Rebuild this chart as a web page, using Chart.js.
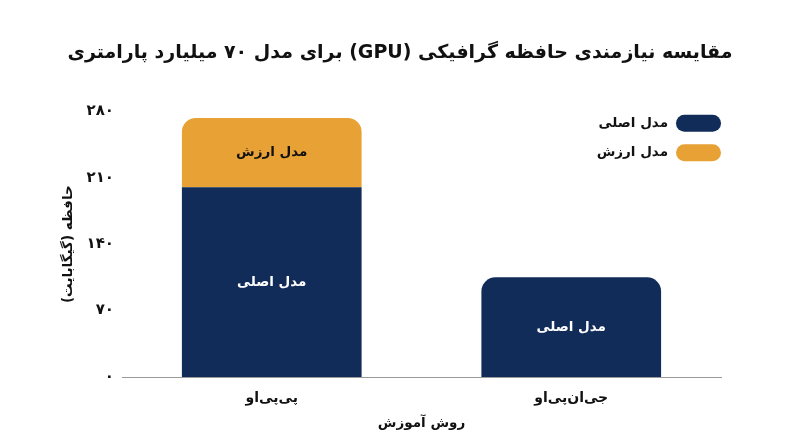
<!DOCTYPE html>
<html lang="fa" dir="rtl">
<head>
<meta charset="utf-8">
<script src="https://cdn.jsdelivr.net/npm/chart.js@4.4.1/dist/chart.umd.min.js"></script>
<style>
  html, body { margin: 0; padding: 0; background: #ffffff; }
  #wrap { width: 800px; height: 447px; position: relative; }
  canvas { direction: rtl; }
</style>
</head>
<body>
<div id="wrap"><canvas id="c" width="800" height="447"></canvas></div>
<script>
// ---- data ----
const categories = ['پی‌پی‌او', 'جی‌ان‌پی‌او'];
const seriesNames = ['مدل اصلی', 'مدل ارزش'];
const mainModel = [200, 105];
const valueModel = [73, null];
const yTickValues = [0, 70, 140, 210, 280];
const yTickLabels = ['۰', '۷۰', '۱۴۰', '۲۱۰', '۲۸۰'];
const titleText = 'مقایسه نیازمندی حافظه گرافیکی (GPU) برای مدل ۷۰ میلیارد پارامتری';
const yTitle = 'حافظه (گیگابایت)';
const xTitle = 'روش آموزش';

const NAVY = '#122c5a';
const ORANGE = '#e7a135';
const TEXT = '#111111';
const FONT = "'DejaVu Sans', sans-serif";

const barLabels = {
  id: 'barLabels',
  afterDatasetsDraw(chart) {
    const ctx = chart.ctx;
    ctx.save();
    ctx.font = 'bold 13.5px ' + FONT;
    ctx.textAlign = 'center';
    ctx.textBaseline = 'middle';
    ctx.direction = 'rtl';
    chart.data.datasets.forEach((ds, di) => {
      const meta = chart.getDatasetMeta(di);
      meta.data.forEach((el, i) => {
        const v = ds.data[i];
        if (v == null) return;
        ctx.fillStyle = di === 0 ? '#ffffff' : TEXT;
        ctx.fillText(ds.label, el.x, (el.y + el.base) / 2);
      });
    });
    ctx.restore();
  }
};

const pillLegend = {
  id: 'pillLegend',
  afterDraw(chart) {
    const ctx = chart.ctx;
    const area = chart.chartArea;
    ctx.save();
    ctx.font = 'bold 13.5px ' + FONT;
    ctx.textAlign = 'right';
    ctx.textBaseline = 'middle';
    ctx.direction = 'rtl';
    const w = 45, h = 17, gap = 29.5;
    chart.data.datasets.forEach((ds, i) => {
      const cy = area.top + 12 + i * gap;
      const x1 = area.right - w;
      ctx.fillStyle = ds.backgroundColor;
      ctx.beginPath();
      ctx.roundRect(x1, cy - h / 2, w, h, h / 2);
      ctx.fill();
      ctx.fillStyle = TEXT;
      ctx.fillText(ds.label, x1 - 8, cy);
    });
    ctx.restore();
  }
};

new Chart(document.getElementById('c'), {
  type: 'bar',
  data: {
    labels: categories,
    datasets: [
      {
        label: seriesNames[0],
        data: mainModel,
        backgroundColor: NAVY,
        borderSkipped: false,
        borderRadius: (c) => {
          const top = valueModel[c.dataIndex] == null;
          const r = top ? 14 : 0;
          return { topLeft: r, topRight: r, bottomLeft: 0, bottomRight: 0 };
        }
      },
      {
        label: seriesNames[1],
        data: valueModel,
        backgroundColor: ORANGE,
        borderSkipped: false,
        borderRadius: { topLeft: 14, topRight: 14, bottomLeft: 0, bottomRight: 0 }
      }
    ]
  },
  options: {
    responsive: false,
    animation: false,
    devicePixelRatio: 1,
    layout: { padding: { left: 0, right: 0, top: 0, bottom: 15 } },
    datasets: { bar: { barPercentage: 0.6, categoryPercentage: 1.0 } },
    plugins: {
      legend: { display: false },
      tooltip: { enabled: false },
      title: {
        display: true,
        text: titleText,
        color: TEXT,
        font: { family: FONT, size: 19, weight: 'bold' },
        padding: { top: 41.5, bottom: 47 }
      }
    },
    scales: {
      x: {
        stacked: true,
        grid: { display: false },
        border: { display: true, color: '#9a9a9a', width: 1 },
        ticks: { color: TEXT, font: { family: FONT, size: 14, weight: 'bold' }, padding: 5 },
        title: { display: true, text: xTitle, color: TEXT, font: { family: FONT, size: 13.5, weight: 'bold' }, padding: { top: 4, bottom: 0 } }
      },
      y: {
        stacked: true,
        min: 0,
        max: 280,
        afterBuildTicks: (axis) => { axis.ticks = yTickValues.map(v => ({ value: v })); },
        afterFit: (axis) => { axis.width = 122; },
        grid: { display: false, drawTicks: false },
        border: { display: false },
        ticks: {
          color: TEXT,
          padding: 8,
          font: { family: FONT, size: 15, weight: 'bold' },
          callback: (v) => { const i = yTickValues.indexOf(v); return i >= 0 ? yTickLabels[i] : ''; }
        },
        title: { display: true, text: yTitle, color: TEXT, font: { family: FONT, size: 13.5, weight: 'bold' }, padding: { top: 60, bottom: 0 } }
      },
      yRight: {
        position: 'right',
        min: 0,
        max: 280,
        afterFit: (axis) => { axis.width = 79; },
        grid: { display: false, drawTicks: false },
        border: { display: false },
        ticks: { display: false }
      }
    }
  },
  plugins: [barLabels, pillLegend]
});
</script>
</body>
</html>
